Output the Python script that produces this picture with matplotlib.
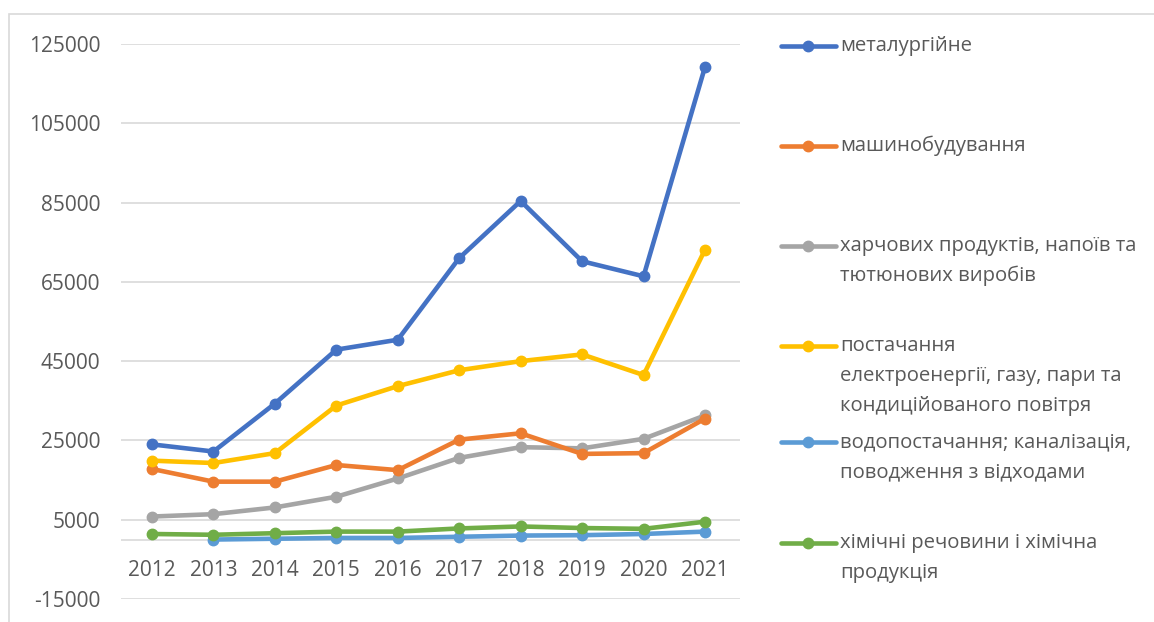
import numpy as np
import matplotlib
matplotlib.use("Agg")
import matplotlib.pyplot as plt
from matplotlib.lines import Line2D
from matplotlib.patches import Rectangle
from matplotlib.transforms import blended_transform_factory

plt.rcParams['font.family'] = ['Open Sans', 'DejaVu Sans']
plt.rcParams['axes.unicode_minus'] = False

years = ['2012', '2013', '2014', '2015', '2016', '2017', '2018', '2019', '2020', '2021']

metallurgy = [24000, 22200, 34300, 47900, 50400, 71000, 85400, 70200, 66400, 119200]
machinery = [17800, 14600, 14600, 18800, 17500, 25200, 26800, 21600, 21800, 30500]
food = [5800, 6400, 8100, 10800, 15400, 20600, 23300, 23000, 25400, 31300]
energy = [19900, 19300, 21800, 33800, 38700, 42700, 45000, 46700, 41500, 73100]
water = [np.nan, 0, 200, 400, 400, 700, 1000, 1100, 1400, 2000]
chemicals = [1400, 1200, 1600, 2000, 2000, 2800, 3300, 2900, 2700, 4500]

labels = ['металургійне',
          'машинобудування',
          'харчових продуктів, напоїв та\nтютюнових виробів',
          'постачання\nелектроенергії, газу, пари та\nкондиційованого повітря',
          'водопостачання; каналізація,\nповодження з відходами',
          'хімічні речовини і хімічна\nпродукція']
colors = ['#4472C4', '#ED7D31', '#A5A5A5', '#FFC000', '#5B9BD5', '#70AD47']
series = [metallurgy, machinery, food, energy, water, chemicals]

text_color = '#595959'
grid_color = '#D9D9D9'

fig = plt.figure(figsize=(11.54, 6.22), dpi=100)
W, H = 1154, 622
ax = fig.add_axes([121 / W, 1 - 599 / H, (740 - 121) / W, (599 - 44) / H])

x = np.arange(len(years))
# draw order: green and light blue sit under the others at the bottom
for i in [4, 5, 2, 1, 3, 0]:
    ax.plot(x, series[i], color=colors[i], lw=3.3, marker='o', ms=7.5,
            solid_capstyle='round', zorder=3)

ax.set_xlim(-0.505, 9.57)
ax.set_ylim(-15000, 125000)
ax.set_yticks(np.arange(-15000, 125001, 20000))
ax.yaxis.grid(True, color=grid_color, lw=1.2)
ax.set_axisbelow(True)
ax.axhline(0, color=grid_color, lw=1.2, zorder=1)
for s in ax.spines.values():
    s.set_visible(False)
ax.tick_params(axis='y', length=0, pad=15, labelsize=15, labelcolor=text_color)
ax.set_xticks([])

# category labels sit between the zero line and the bottom gridline
trans = blended_transform_factory(ax.transData, ax.transAxes)
label_y = (599 - 571) / (599 - 44)
for xi, yr in zip(x, years):
    ax.text(xi, label_y, yr, transform=trans, ha='center', va='center',
            fontsize=15, color=text_color)

# legend drawn by hand, handle aligned with the first line of each entry
handle_y = [46, 146, 246, 346, 442, 543]
for lab, col, hy in zip(labels, colors, handle_y):
    yf = 1 - hy / H
    fig.add_artist(Line2D([781 / W, 836 / W], [yf, yf], color=col, lw=3.3,
                          solid_capstyle='round'))
    fig.add_artist(Line2D([808 / W], [yf], color=col, marker='o', ms=7.5))
    for k, line in enumerate(lab.split('\n')):
        fig.text(840 / W, 1 - (hy + k * 30) / H, line, ha='left', va='center',
                 fontsize=14.6, color=text_color)

# light chart border
fig.add_artist(Rectangle((9 / W, -0.1), 1.2, 1 - 14 / H + 0.1, transform=fig.transFigure,
                         fill=False, edgecolor=grid_color, lw=1.2))

fig.savefig('out.png', dpi=100, facecolor='white')
